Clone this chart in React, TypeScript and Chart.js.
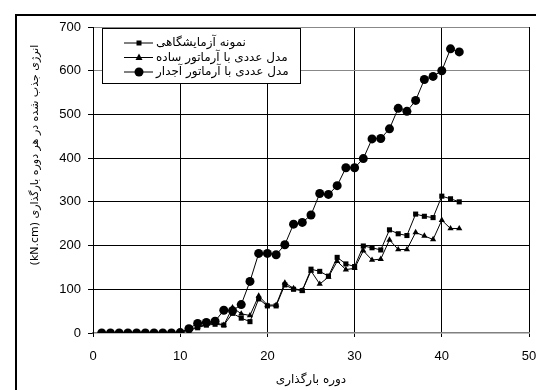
import React, { useEffect, useRef } from "react";
import { Chart, registerables } from "chart.js";

Chart.register(...registerables);

const cycles = [1, 2, 3, 4, 5, 6, 7, 8, 9, 10, 11, 12, 13, 14, 15, 16, 17, 18, 19, 20, 21, 22, 23, 24, 25, 26, 27, 28, 29, 30, 31, 32, 33, 34, 35, 36, 37, 38, 39, 40, 41, 42];
const experimental = [0, 0, 0, 0, 0, 0, 0, 0, 0, 2, 6, 12, 18, 20, 18, 45, 34, 26, 78, 62, 62, 110, 100, 97, 146, 141, 130, 173, 158, 152, 199, 195, 190, 236, 227, 223, 272, 267, 264, 313, 307, 300];
const simpleRebar = [0, 0, 0, 0, 0, 0, 0, 0, 0, 2, 8, 14, 20, 24, 18, 58, 44, 40, 85, 64, 64, 115, 102, 97, 142, 112, 128, 164, 145, 148, 188, 167, 169, 213, 191, 191, 230, 222, 214, 258, 239, 239];
const deformedRebar = [0, 0, 0, 0, 0, 0, 0, 0, 0, 1, 10, 22, 24, 27, 52, 51, 65, 118, 182, 182, 179, 202, 249, 253, 270, 319, 317, 337, 378, 378, 399, 444, 445, 467, 514, 507, 532, 580, 587, 600, 650, 643];

const seriesNames = ["نمونه آزمایشگاهی", "مدل عددی با آرماتور ساده", "مدل عددی با آرماتور آجدار"];
const seriesMarkers = ["rect", "triangle", "circle"];
const xTitle = "دوره بارگذاری";
const yTitle = "(kN.cm) انرژی جذب شده در هر دوره بارگذاری";
const xRange = [0, 50];
const yRange = [0, 700];
const xStep = 10;
const yStep = 100;

function drawMarker(ctx: CanvasRenderingContext2D, style: string, x: number, y: number) {
  ctx.beginPath();
  if (style === "rect") {
    ctx.rect(x - 2.5, y - 2.5, 5, 5);
  } else if (style === "triangle") {
    ctx.moveTo(x, y - 4);
    ctx.lineTo(x + 3.5, y + 2.5);
    ctx.lineTo(x - 3.5, y + 2.5);
    ctx.closePath();
  } else {
    ctx.arc(x, y, 4.5, 0, Math.PI * 2);
  }
  ctx.fill();
}

const framePlugin = {
  id: "frame",
  beforeDraw(chart: any) {
    const ctx = chart.ctx as CanvasRenderingContext2D;
    ctx.save();
    ctx.fillStyle = "#fff";
    ctx.fillRect(0, 0, chart.width, chart.height);
    ctx.strokeStyle = "#000";
    ctx.lineWidth = 2;
    ctx.strokeRect(16, 15, 800, 800);
    ctx.translate(35, 155);
    ctx.rotate(-Math.PI / 2);
    ctx.font = '11px "DejaVu Sans"';
    ctx.fillStyle = "#000";
    ctx.textAlign = "center";
    ctx.textBaseline = "middle";
    (ctx as any).direction = "ltr";
    ctx.fillText(yTitle, 0, 0);
    ctx.restore();
  },
  afterDraw(chart: any) {
    const ctx = chart.ctx as CanvasRenderingContext2D;
    ctx.save();
    const bx = 102.5, by = 28.5, bw = 198, bh = 55;
    ctx.fillStyle = "#fff";
    ctx.fillRect(bx, by, bw, bh);
    ctx.strokeStyle = "#000";
    ctx.lineWidth = 1;
    ctx.strokeRect(bx, by, bw, bh);
    ctx.font = '12px "DejaVu Sans"';
    ctx.textAlign = "left";
    ctx.textBaseline = "middle";
    (ctx as any).direction = "rtl";
    for (let i = 0; i < seriesNames.length; i++) {
      const y = 43 + i * 14.5;
      ctx.strokeStyle = "#000";
      ctx.beginPath();
      ctx.moveTo(124, y);
      ctx.lineTo(153, y);
      ctx.stroke();
      ctx.fillStyle = "#000";
      drawMarker(ctx, seriesMarkers[i], 139, y);
      ctx.fillText(seriesNames[i], 156, y);
    }
    ctx.restore();
  },
};

export default function App() {
  const ref = useRef<HTMLCanvasElement>(null);
  useEffect(() => {
    if (!ref.current) return;
    const mk = (vals: number[]) => cycles.map((c, i) => ({ x: c, y: vals[i] }));
    const tickFont = { family: '"Liberation Sans", Arial, sans-serif', size: 13 };
    const chart = new Chart(ref.current, {
      type: "line",
      data: {
        datasets: [
          {
            label: seriesNames[2],
            data: mk(deformedRebar),
            borderColor: "#000",
            backgroundColor: "#000",
            borderWidth: 1,
            pointStyle: "circle",
            pointRadius: 4.5,
            pointBorderWidth: 0,
          },
          {
            label: seriesNames[1],
            data: mk(simpleRebar),
            borderColor: "#000",
            backgroundColor: "#000",
            borderWidth: 1,
            pointStyle: "triangle",
            pointRadius: 3.6,
            pointBorderWidth: 0,
          },
          {
            label: seriesNames[0],
            data: mk(experimental),
            borderColor: "#000",
            backgroundColor: "#000",
            borderWidth: 1,
            pointStyle: "rect",
            pointRadius: 3.6,
            pointBorderWidth: 0,
          },
        ],
      },
      options: {
        responsive: false,
        animation: false,
        layout: { padding: { left: 15, right: 7, top: 27, bottom: 0 } },
        plugins: { legend: { display: false }, tooltip: { enabled: false } },
        scales: {
          x: {
            type: "linear",
            min: xRange[0],
            max: xRange[1],
            afterFit: (s: any) => {
              s.height = 57;
              s.paddingRight = 0;
              s.paddingLeft = 0;
            },
            ticks: { stepSize: xStep, color: "#000", font: tickFont, padding: 12, maxRotation: 0 },
            grid: {
              color: (c: any) => (c.tick && c.tick.value === 0 ? "rgba(0,0,0,0)" : "#000"),
              borderDash: [3, 3],
              tickBorderDash: [],
              tickColor: "#000",
              tickLength: 4,
              lineWidth: 1,
            },
            border: { display: true, color: "#808080", width: 1.5 },
            title: {
              display: true,
              text: xTitle,
              color: "#000",
              font: { family: '"DejaVu Sans"', size: 12 },
              padding: { top: 0, bottom: 3 },
            },
          },
          y: {
            type: "linear",
            min: yRange[0],
            max: yRange[1],
            afterFit: (s: any) => { s.width = 78; },
            ticks: { stepSize: yStep, color: "#000", font: tickFont, padding: 7 },
            grid: {
              color: (c: any) =>
                c.tick && c.tick.value === 0 ? "rgba(0,0,0,0)" : c.tick && c.tick.value >= 600 ? "#888" : "#000",
              borderDash: [3, 3],
              tickBorderDash: [],
              tickColor: "#000",
              tickLength: 5,
              lineWidth: 1,
            },
            border: { display: true, color: "#000", width: 1 },
          },
        },
      },
      plugins: [framePlugin],
    } as any);
    return () => chart.destroy();
  }, []);
  return (
    <div style={{ position: "fixed", left: 0, top: 0, width: 536, height: 390, background: "#fff" }}>
      <canvas ref={ref} width={536} height={390} style={{ display: "block" }} />
    </div>
  );
}
